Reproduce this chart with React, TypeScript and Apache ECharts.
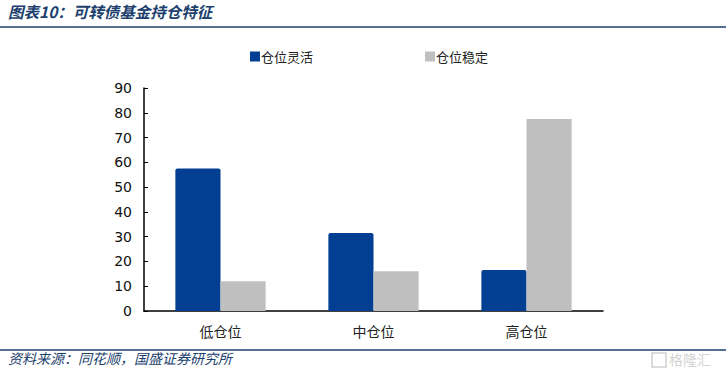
import React, { useEffect, useRef } from "react";
import * as echarts from "echarts";

const categories = ["低仓位", "中仓位", "高仓位"];
const flexibleValues = [57.5, 31.5, 16.5];
const stableValues = [12, 16, 77.5];
const seriesNames = ["仓位灵活", "仓位稳定"];
const yTicks = { min: 0, max: 90, interval: 10 };

export default function App() {
  const ref = useRef<HTMLDivElement>(null);
  useEffect(() => {
    if (!ref.current) return;
    document.body.style.margin = "0";
    const chart = echarts.init(ref.current, null, { renderer: "svg" });
    const navy = "#1c3f6e";
    chart.setOption({
      animation: false,
      backgroundColor: "#ffffff",
      legend: {
        left: 245,
        top: 45,
        itemWidth: 10,
        itemHeight: 10,
        itemGap: 112,
        icon: "rect",
        textStyle: { fontSize: 13, color: "#222", fontFamily: "Noto Sans CJK SC", padding: [0, 0, 0, -4] },
        data: seriesNames,
      },
      grid: { left: 144, right: 123, top: 88, bottom: 66 },
      xAxis: {
        type: "category",
        data: categories,
        axisLine: { lineStyle: { color: "#000", width: 1.5 } },
        axisTick: { inside: true, length: 5, lineStyle: { color: "#000" } },
        axisLabel: { fontSize: 14, color: "#222", margin: 13, fontFamily: "Noto Sans CJK SC" },
      },
      yAxis: {
        type: "value",
        min: yTicks.min,
        max: yTicks.max,
        interval: yTicks.interval,
        axisLine: { show: true, lineStyle: { color: "#000", width: 1.5 } },
        axisTick: { show: true, inside: true, length: 4, lineStyle: { color: "#000" } },
        splitLine: { show: false },
        axisLabel: { fontSize: 14, color: "#111", margin: 12, fontFamily: "DejaVu Sans" },
      },
      series: [
        {
          name: seriesNames[0],
          type: "bar",
          data: flexibleValues,
          barGap: "0%",
          barCategoryGap: "41%",
          itemStyle: { color: "#023f93", borderRadius: [2, 2, 0, 0] },
        },
        {
          name: seriesNames[1],
          type: "bar",
          data: stableValues,
          itemStyle: { color: "#bfbfbf" },
        },
      ],
      graphic: [
        {
          type: "text",
          left: 8,
          top: 3,
          style: {
            text: "图表10：可转债基金持仓特征",
            fontSize: 15.5,
            fontWeight: "bold",
            fontStyle: "italic",
            fill: navy,
            fontFamily: "Noto Sans CJK SC",
          },
        },
        {
          type: "line",
          shape: { x1: 0, y1: 27, x2: 726, y2: 27 },
          style: { stroke: navy, lineWidth: 1.5 },
        },
        {
          type: "line",
          shape: { x1: 0, y1: 350, x2: 726, y2: 350 },
          style: { stroke: navy, lineWidth: 1.5 },
        },
        {
          type: "text",
          left: 8,
          top: 351,
          style: {
            text: "资料来源：同花顺，国盛证券研究所",
            fontSize: 14,
            fontStyle: "italic",
            fill: navy,
            fontFamily: "Noto Sans CJK SC",
          },
        },
        {
          type: "rect",
          shape: { x: 652, y: 353, width: 14, height: 14 },
          style: { fill: "none", stroke: "#cfcfcf", lineWidth: 1.5 },
        },
        {
          type: "text",
          left: 669,
          top: 352,
          style: {
            text: "格隆汇",
            fontSize: 14,
            fill: "#d4d4d4",
            fontFamily: "Noto Sans CJK SC",
          },
        },
      ],
    });
    return () => chart.dispose();
  }, []);
  return <div ref={ref} style={{ width: 726, height: 377 }} />;
}
